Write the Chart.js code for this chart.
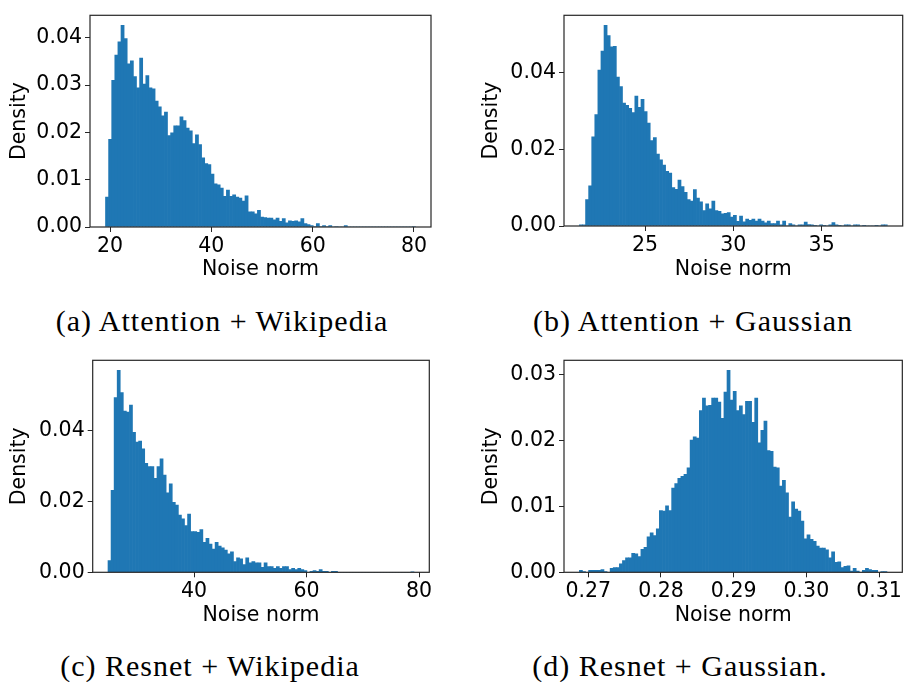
<!DOCTYPE html>
<html>
<head>
<meta charset="utf-8">
<script src="https://cdn.jsdelivr.net/npm/chart.js@4.4.1/dist/chart.umd.min.js"></script>
<style>
  body { margin: 0; background: #fff; width: 904px; height: 682px; position: relative; overflow: hidden; }
  canvas { position: absolute; }
  .cap { position: absolute; font-family: "Liberation Serif", serif; font-size: 30px; letter-spacing: 1px;
         color: #000; white-space: nowrap; transform: translate(-50%, -50%); }
</style>
</head>
<body>
<canvas id="ca" width="440" height="290" style="left:0;top:0"></canvas>
<canvas id="cb" width="444" height="290" style="left:460px;top:0"></canvas>
<canvas id="cc" width="440" height="290" style="left:0;top:345px"></canvas>
<canvas id="cd" width="444" height="290" style="left:460px;top:345px"></canvas>
<div class="cap" style="left:222px;top:321px">(a) Attention + Wikipedia</div>
<div class="cap" style="left:693px;top:321px">(b) Attention + Gaussian</div>
<div class="cap" style="left:210px;top:666px">(c) Resnet + Wikipedia</div>
<div class="cap" style="left:680px;top:666px">(d) Resnet + Gaussian.</div>
<script>
// histogram bins: first edge, bin width, density per bin (100 bins each)
var attnWikiStart = 19.1, attnWikiWidth = 0.612;
var attnWiki = [
  0.0063, 0.0185, 0.0310, 0.0363, 0.0391, 0.0426, 0.0398, 0.0345, 0.0351, 0.0318,
  0.0294, 0.0357, 0.0302, 0.0320, 0.0294, 0.0292, 0.0266, 0.0254, 0.0235, 0.0243,
  0.0193, 0.0199, 0.0214, 0.0214, 0.0233, 0.0225, 0.0209, 0.0203, 0.0176, 0.0195,
  0.0174, 0.0146, 0.0134, 0.0132, 0.0112, 0.0091, 0.0089, 0.0082, 0.0065, 0.0078,
  0.0065, 0.0068, 0.0063, 0.0061, 0.0055, 0.0066, 0.0032, 0.0032, 0.0028, 0.0035,
  0.0021, 0.0020, 0.0019, 0.0019, 0.0015, 0.0019, 0.0012, 0.0018, 0.0009, 0.0013,
  0.0012, 0.0013, 0.0011, 0.0018, 0.0007, 0.0005, 0.0003, 0.0001, 0.0007, 0.0001,
  0.0003, 0.0001, 0.0003, 0, 0.0001, 0, 0, 0.0003, 0, 0,
  0, 0, 0, 0, 0, 0, 0, 0, 0, 0,
  0, 0, 0, 0, 0, 0, 0, 0, 0, 0.0001
];

var attnGaussStart = 21.28, attnGaussWidth = 0.1744;
var attnGauss = [
  0.0003, 0.0003, 0.0069, 0.0105, 0.0233, 0.0291, 0.0407, 0.0457, 0.0524, 0.0497,
  0.0468, 0.0469, 0.0389, 0.0364, 0.0321, 0.0315, 0.0307, 0.0296, 0.0339, 0.0310,
  0.0331, 0.0299, 0.0269, 0.0223, 0.0231, 0.0188, 0.0173, 0.0159, 0.0143, 0.0138,
  0.0100, 0.0096, 0.0120, 0.0103, 0.0088, 0.0069, 0.0065, 0.0095, 0.0073, 0.0063,
  0.0040, 0.0058, 0.0045, 0.0065, 0.0040, 0.0038, 0.0032, 0.0033, 0.0035, 0.0023,
  0.0028, 0.0012, 0.0026, 0.0011, 0.0018, 0.0015, 0.0018, 0.0013, 0.0018, 0.0013,
  0.0008, 0.0013, 0.0006, 0.0006, 0.0013, 0.0003, 0.0013, 0, 0.0006, 0.0003,
  0, 0.0003, 0.0003, 0.0010, 0.0004, 0.0003, 0.0002, 0, 0.0003, 0.0002,
  0, 0.0003, 0.0009, 0.0003, 0.0002, 0, 0.0003, 0.0003, 0, 0.0003,
  0.0003, 0, 0.0002, 0, 0, 0, 0.0002, 0, 0.0003, 0.0003
];

var resWikiStart = 24.7, resWikiWidth = 0.544;
var resWiki = [
  0.0033, 0.0232, 0.0494, 0.0571, 0.0508, 0.0456, 0.0453, 0.0473, 0.0396, 0.0368,
  0.0371, 0.0349, 0.0308, 0.0299, 0.0299, 0.0266, 0.0299, 0.0321, 0.0275, 0.0225,
  0.0250, 0.0198, 0.0190, 0.0162, 0.0151, 0.0132, 0.0165, 0.0115, 0.0115, 0.0113,
  0.0121, 0.0085, 0.0096, 0.0080, 0.0066, 0.0085, 0.0074, 0.0069, 0.0063, 0.0052,
  0.0058, 0.0030, 0.0041, 0.0038, 0.0022, 0.0041, 0.0027, 0.0030, 0.0027, 0.0027,
  0.0014, 0.0027, 0.0016, 0.0016, 0.0011, 0.0016, 0.0011, 0.0016, 0.0016, 0.0008,
  0.0011, 0.0008, 0.0011, 0.0008, 0.0005, 0, 0.0003, 0.0005, 0.0003, 0.0008,
  0.0003, 0.0003, 0, 0.0003, 0.0003, 0, 0, 0, 0, 0,
  0, 0, 0, 0, 0, 0, 0, 0, 0, 0,
  0, 0, 0, 0, 0, 0, 0, 0, 0, 0.0001
];

var resGaussStart = 0.26878, resGaussWidth = 0.000423;
var resGauss = [
  0.0003, 0.0001, 0, 0.0003, 0.0003, 0.0003, 0.0003, 0.0004, 0.0001, 0,
  0.0006, 0.0007, 0.0007, 0.0013, 0.0018, 0.0022, 0.0022, 0.0029, 0.0028, 0.0024,
  0.0035, 0.0038, 0.0054, 0.0060, 0.0056, 0.0066, 0.0094, 0.0093, 0.0101, 0.0094,
  0.0128, 0.0135, 0.0143, 0.0146, 0.0149, 0.0159, 0.0201, 0.0206, 0.0204, 0.0246,
  0.0265, 0.0253, 0.0254, 0.0265, 0.0265, 0.0259, 0.0234, 0.0274, 0.0307, 0.0262,
  0.0275, 0.0246, 0.0253, 0.0240, 0.0260, 0.0260, 0.0228, 0.0265, 0.0197, 0.0216,
  0.0230, 0.0185, 0.0184, 0.0160, 0.0159, 0.0131, 0.0140, 0.0121, 0.0084, 0.0107,
  0.0096, 0.0093, 0.0078, 0.0051, 0.0057, 0.0050, 0.0047, 0.0040, 0.0037, 0.0037,
  0.0034, 0.0022, 0.0031, 0.0015, 0.0016, 0.0007, 0.0009, 0.0010, 0.0002, 0.0006,
  0.0002, 0, 0.0003, 0.0006, 0.0004, 0.0003, 0.0003, 0, 0.0001, 0.0001
];

var ticksX_a = [20, 40, 60, 80];
var ticksY_a = [0, 0.01, 0.02, 0.03, 0.04];
var ticksX_b = [25, 30, 35];
var ticksY_b = [0, 0.02, 0.04];
var ticksX_c = [40, 60, 80];
var ticksY_c = [0, 0.02, 0.04];
var ticksX_d = [0.27, 0.28, 0.29, 0.30, 0.31];
var ticksY_d = [0, 0.01, 0.02, 0.03];

var barColor = "#1f77b4";
var axisColor = "#262626";
var tickFont = { family: "'DejaVu Sans', sans-serif", size: 20.5 };

var framePlugin = {
  id: "frame",
  afterDatasetsDraw: function (chart) {
    var a = chart.chartArea, ctx = chart.ctx;
    ctx.save();
    ctx.strokeStyle = axisColor;
    ctx.lineWidth = 1.2;
    ctx.strokeRect(a.left, a.top, a.right - a.left, a.bottom - a.top);
    ctx.restore();
  }
};

// box = chart area inside the canvas, yTitleX = centre of "Density", xTitleY = centre of "Noise norm"
function makeHist(id, start, width, values, xTicks, yTicks, xDec, box) {
  var canvas = document.getElementById(id);
  var W = canvas.width, H = canvas.height;
  var data = values.map(function (v, i) {
    return { x: start + (i + 0.5) * width, y: v };
  });
  var lo = start, hi = start + values.length * width;
  var pad = (hi - lo) * 0.05;
  var yMax = Math.max.apply(null, values) * 1.05;
  var half = 20.5 * 1.2 / 2;
  var padLeft = box.yTitleX - half;
  var padBottom = H - (box.xTitleY + half);

  return new Chart(canvas, {
    type: "bar",
    data: {
      datasets: [{
        data: data,
        backgroundColor: barColor,
        borderWidth: 0,
        barPercentage: 1,
        categoryPercentage: 1
      }]
    },
    options: {
      responsive: false,
      animation: false,
      events: [],
      layout: { padding: { left: padLeft, top: box.top, right: W - box.right, bottom: padBottom } },
      plugins: { legend: { display: false }, tooltip: { enabled: false } },
      scales: {
        x: {
          type: "linear",
          offset: false,
          min: lo - pad,
          max: hi + pad,
          afterBuildTicks: function (s) { s.ticks = xTicks.map(function (v) { return { value: v }; }); },
          afterFit: function (s) { s.height = (H - padBottom) - box.bottom; },
          ticks: {
            font: tickFont, color: "#000", padding: 2, maxRotation: 0, autoSkip: false,
            callback: function (v) { return v.toFixed(xDec); }
          },
          grid: { display: true, drawOnChartArea: false, drawTicks: true, tickLength: 5, color: axisColor, offset: false },
          border: { display: false },
          title: { display: true, text: "Noise norm", font: tickFont, color: "#000", padding: 0 }
        },
        y: {
          min: 0,
          max: yMax,
          afterBuildTicks: function (s) { s.ticks = yTicks.map(function (v) { return { value: v }; }); },
          afterFit: function (s) { s.width = box.left - padLeft; },
          ticks: {
            font: tickFont, color: "#000", padding: 3,
            callback: function (v) { return v.toFixed(2); }
          },
          grid: { display: true, drawOnChartArea: false, drawTicks: true, tickLength: 5, color: axisColor },
          border: { display: false },
          title: { display: true, text: "Density", font: tickFont, color: "#000", padding: 0 }
        }
      }
    },
    plugins: [framePlugin]
  });
}

makeHist("ca", attnWikiStart, attnWikiWidth, attnWiki, ticksX_a, ticksY_a, 0,
  { left: 90, top: 6, right: 431, bottom: 227, yTitleX: 20, xTitleY: 270 });
makeHist("cb", attnGaussStart, attnGaussWidth, attnGauss, ticksX_b, ticksY_b, 0,
  { left: 104, top: 6, right: 442.7, bottom: 226, yTitleX: 31.7, xTitleY: 270 });
makeHist("cc", resWikiStart, resWikiWidth, resWiki, ticksX_c, ticksY_c, 0,
  { left: 92.7, top: 9, right: 429.3, bottom: 227.3, yTitleX: 20, xTitleY: 271 });
makeHist("cd", resGaussStart, resGaussWidth, resGauss, ticksX_d, ticksY_d, 2,
  { left: 104, top: 7.3, right: 442.7, bottom: 227.3, yTitleX: 31.7, xTitleY: 270.3 });
</script>
</body>
</html>
